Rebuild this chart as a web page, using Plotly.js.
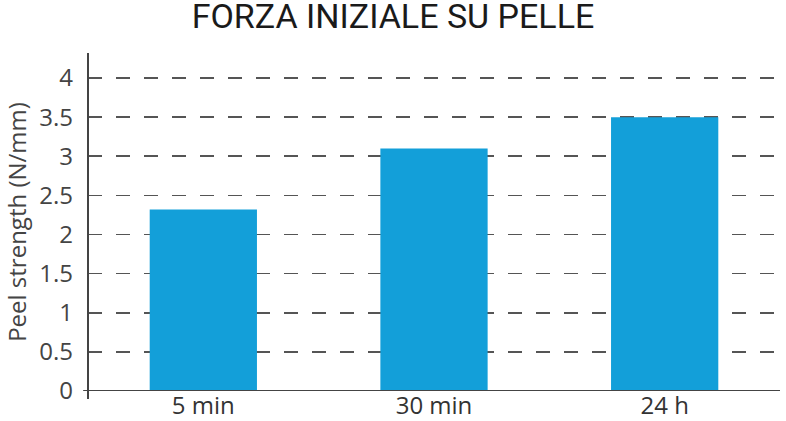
<!DOCTYPE html>
<html>
<head>
<meta charset="utf-8">
<script src="https://cdn.plot.ly/plotly-3.0.1.min.js"></script>
<style>
  html, body { margin: 0; padding: 0; background: #fff; }
  #chart { width: 786px; height: 421px; }
</style>
</head>
<body>
<div id="chart"></div>
<script>
// Peel strength over time
const categories = ['5 min', '30 min', '24 h'];
const peelStrength = [2.32, 3.1, 3.5];
const yTicks = [0, 0.5, 1, 1.5, 2, 2.5, 3, 3.5, 4];

const AXIS_GREY = '#444';

const data = [{
    type: 'bar',
    x: categories,
    y: peelStrength,
    marker: { color: '#139fd9' },
    hoverinfo: 'x+y'
}];

const layout = {
    width: 786, height: 421,
    margin: { t: 53, b: 30, l: 88, r: 6 },
    paper_bgcolor: '#fff',
    plot_bgcolor: '#fff',
    bargap: 0.535,
    showlegend: false,
    title: {
        text: 'FORZA INIZIALE SU PELLE',
        font: { family: 'Roboto', size: 34, color: '#1a1a1a' },
        x: 0.5, xanchor: 'center',
        y: 0.962, yanchor: 'middle'
    },
    xaxis: {
        type: 'category',
        range: [-0.5, 2.5],
        showgrid: false,
        zeroline: false,
        showline: false,
        ticks: '',
        tickfont: { family: 'Open Sans', size: 24, color: '#333' },
        ticklabelstandoff: -2
    },
    yaxis: {
        range: [0, 4.32],
        tickvals: yTicks,
        ticktext: yTicks.map(String),
        showgrid: true,
        gridcolor: '#555',
        gridwidth: 1.6,
        griddash: '14px,14px',
        zeroline: false,
        showline: false,
        ticks: '',
        ticklabelstandoff: 14,
        tickfont: { family: 'Open Sans', size: 24, color: '#444' },
        title: {
            text: 'Peel strength (N/mm)',
            font: { family: 'Open Sans', size: 24, color: '#444' },
            standoff: 8
        }
    },
    shapes: [
        // x axis line, slightly overshooting the y axis on the left
        { type: 'line', xref: 'paper', yref: 'y', x0: -0.007, x1: 1, y0: 0, y1: 0,
          line: { color: AXIS_GREY, width: 2 } },
        // y axis line, slightly below the x axis
        { type: 'line', xref: 'paper', yref: 'paper', x0: 0, x1: 0, y0: -0.024, y1: 1,
          line: { color: AXIS_GREY, width: 2 } }
    ]
};

Plotly.newPlot('chart', data, layout, { displayModeBar: false, staticPlot: true });
</script>
</body>
</html>
